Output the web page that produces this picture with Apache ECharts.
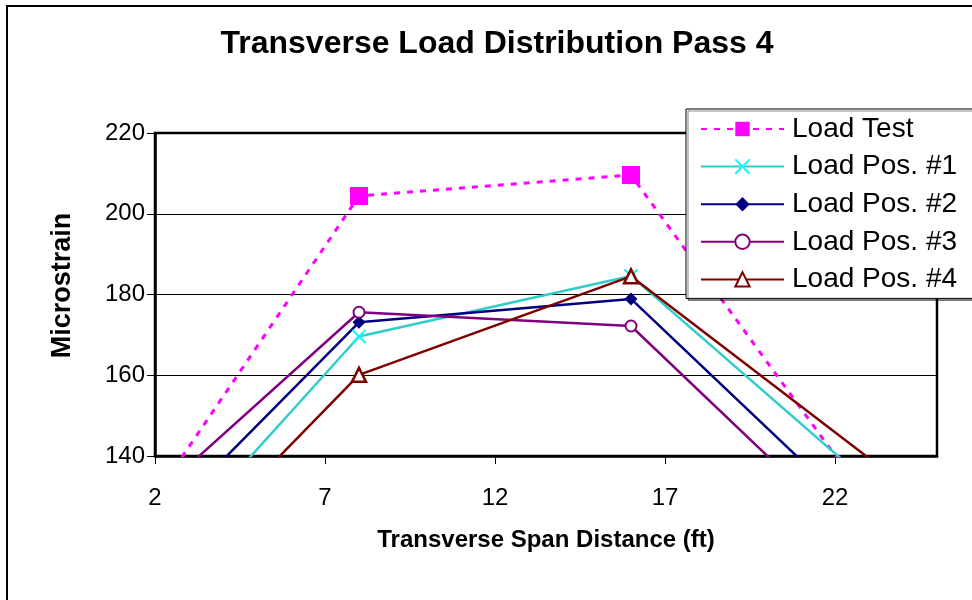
<!DOCTYPE html>
<html>
<head>
<meta charset="utf-8">
<script src="https://cdn.jsdelivr.net/npm/echarts@6/dist/echarts.min.js"></script>
<style>
html,body{margin:0;padding:0;background:#fff;}
#chart{width:972px;height:600px;}
</style>
</head>
<body>
<div id="chart"></div>
<script>
// Data
const xPositions = [0, 8, 16, 24];
const loadTest = [105, 204.4, 209.6, 117];
const loadPos1 = [95, 169.6, 184.6, 126];
const loadPos2 = [105, 173.1, 178.9, 115];
const loadPos3 = [115, 175.6, 172.2, 108];
const loadPos4 = [91, 160.1, 184.5, 133];
const seriesNames = ['Load Test', 'Load Pos. #1', 'Load Pos. #2', 'Load Pos. #3', 'Load Pos. #4'];
const xTicks = [2, 7, 12, 17, 22];
const yTicks = [140, 160, 180, 200, 220];

const FONT = 'Liberation Sans, Arial, sans-serif';
const pair = (ys) => xPositions.map((x, i) => [x, ys[i]]);

const chart = echarts.init(document.getElementById('chart'), null, {renderer: 'canvas'});
const option = {
  backgroundColor: '#fff',
  animation: false,
  textStyle: {fontFamily: FONT},
  title: {
    text: 'Transverse Load Distribution Pass 4',
    left: 497, top: 28, textAlign: 'center', padding: 0,
    textStyle: {fontFamily: FONT, fontSize: 32, fontWeight: 'bold', color: '#000'}
  },
  graphic: [{
    type: 'rect', z: -10, silent: true,
    shape: {x: 7, y: 6, width: 1000, height: 700},
    style: {fill: '#fff', stroke: '#000', lineWidth: 2}
  }],
  grid: {left: 155, right: 35, top: 133, bottom: 144, show: true, borderColor: '#000', borderWidth: 2.5, backgroundColor: 'transparent', containLabel: false},
  legend: {
    orient: 'vertical', left: 686, top: 109,
    padding: [6, 40, 5, 14], itemGap: 9.6, itemWidth: 83, itemHeight: 18,
    backgroundColor: '#fff', borderColor: '#000', borderWidth: 1,
    shadowColor: 'rgba(0,0,0,0.45)', shadowOffsetX: 2, shadowOffsetY: 2, shadowBlur: 0,
    textStyle: {fontFamily: FONT, fontSize: 28, color: '#000', padding: [0, 0, 0, 3]},
    data: seriesNames
  },
  xAxis: {
    type: 'value', min: 2, max: 25, interval: 5,
    name: 'Transverse Span Distance (ft)', nameLocation: 'middle', nameGap: 72,
    nameTextStyle: {fontFamily: FONT, fontSize: 24, fontWeight: 'bold', color: '#000'},
    axisLine: {show: true, lineStyle: {color: '#000', width: 2.5}},
    axisTick: {show: true, length: 8, lineStyle: {color: '#000', width: 1}, customValues: xTicks},
    axisLabel: {fontFamily: FONT, fontSize: 24, color: '#000', margin: 30, customValues: xTicks},
    splitLine: {show: false}
  },
  yAxis: {
    type: 'value', min: 140, max: 220, interval: 20,
    name: 'Microstrain', nameLocation: 'middle', nameGap: 79, nameRotate: 90,
    nameTextStyle: {fontFamily: FONT, fontSize: 27, fontWeight: 'bold', color: '#000', padding: [0, 0, 0, 18]},
    axisLine: {show: true, lineStyle: {color: '#000', width: 2.5}},
    axisTick: {show: true, length: 8, lineStyle: {color: '#000', width: 1}},
    axisLabel: {fontFamily: FONT, fontSize: 24, color: '#000', margin: 10},
    splitLine: {show: true, lineStyle: {color: '#000', width: 1}}
  },
  series: [
    {
      name: seriesNames[0], type: 'line', data: pair(loadTest), clip: true,
      symbol: 'rect', symbolSize: 18,
      lineStyle: {color: '#FF00FF', width: 3, type: [6, 7]},
      itemStyle: {color: '#FF00FF', borderWidth: 0}
    },
    {
      name: seriesNames[1], type: 'line', data: pair(loadPos1), clip: true,
      symbol: 'path://M0,0L10,10M10,0L0,10', symbolSize: 13,
      lineStyle: {color: '#33CCCC', width: 2.5},
      itemStyle: {color: '#00FFFF', borderColor: '#00FFFF', borderWidth: 2}
    },
    {
      name: seriesNames[2], type: 'line', data: pair(loadPos2), clip: true,
      symbol: 'diamond', symbolSize: 13,
      lineStyle: {color: '#000080', width: 2.5},
      itemStyle: {color: '#000080', borderWidth: 0}
    },
    {
      name: seriesNames[3], type: 'line', data: pair(loadPos3), clip: true,
      symbol: 'circle', symbolSize: 11,
      lineStyle: {color: '#800080', width: 2.5},
      itemStyle: {color: '#fff', borderColor: '#800080', borderWidth: 2}
    },
    {
      name: seriesNames[4], type: 'line', data: pair(loadPos4), clip: true,
      symbol: 'triangle', symbolSize: 14,
      lineStyle: {color: '#800000', width: 2.5},
      itemStyle: {color: '#fff', borderColor: '#800000', borderWidth: 2.5}
    }
  ]
};
chart.setOption(option);
</script>
</body>
</html>
